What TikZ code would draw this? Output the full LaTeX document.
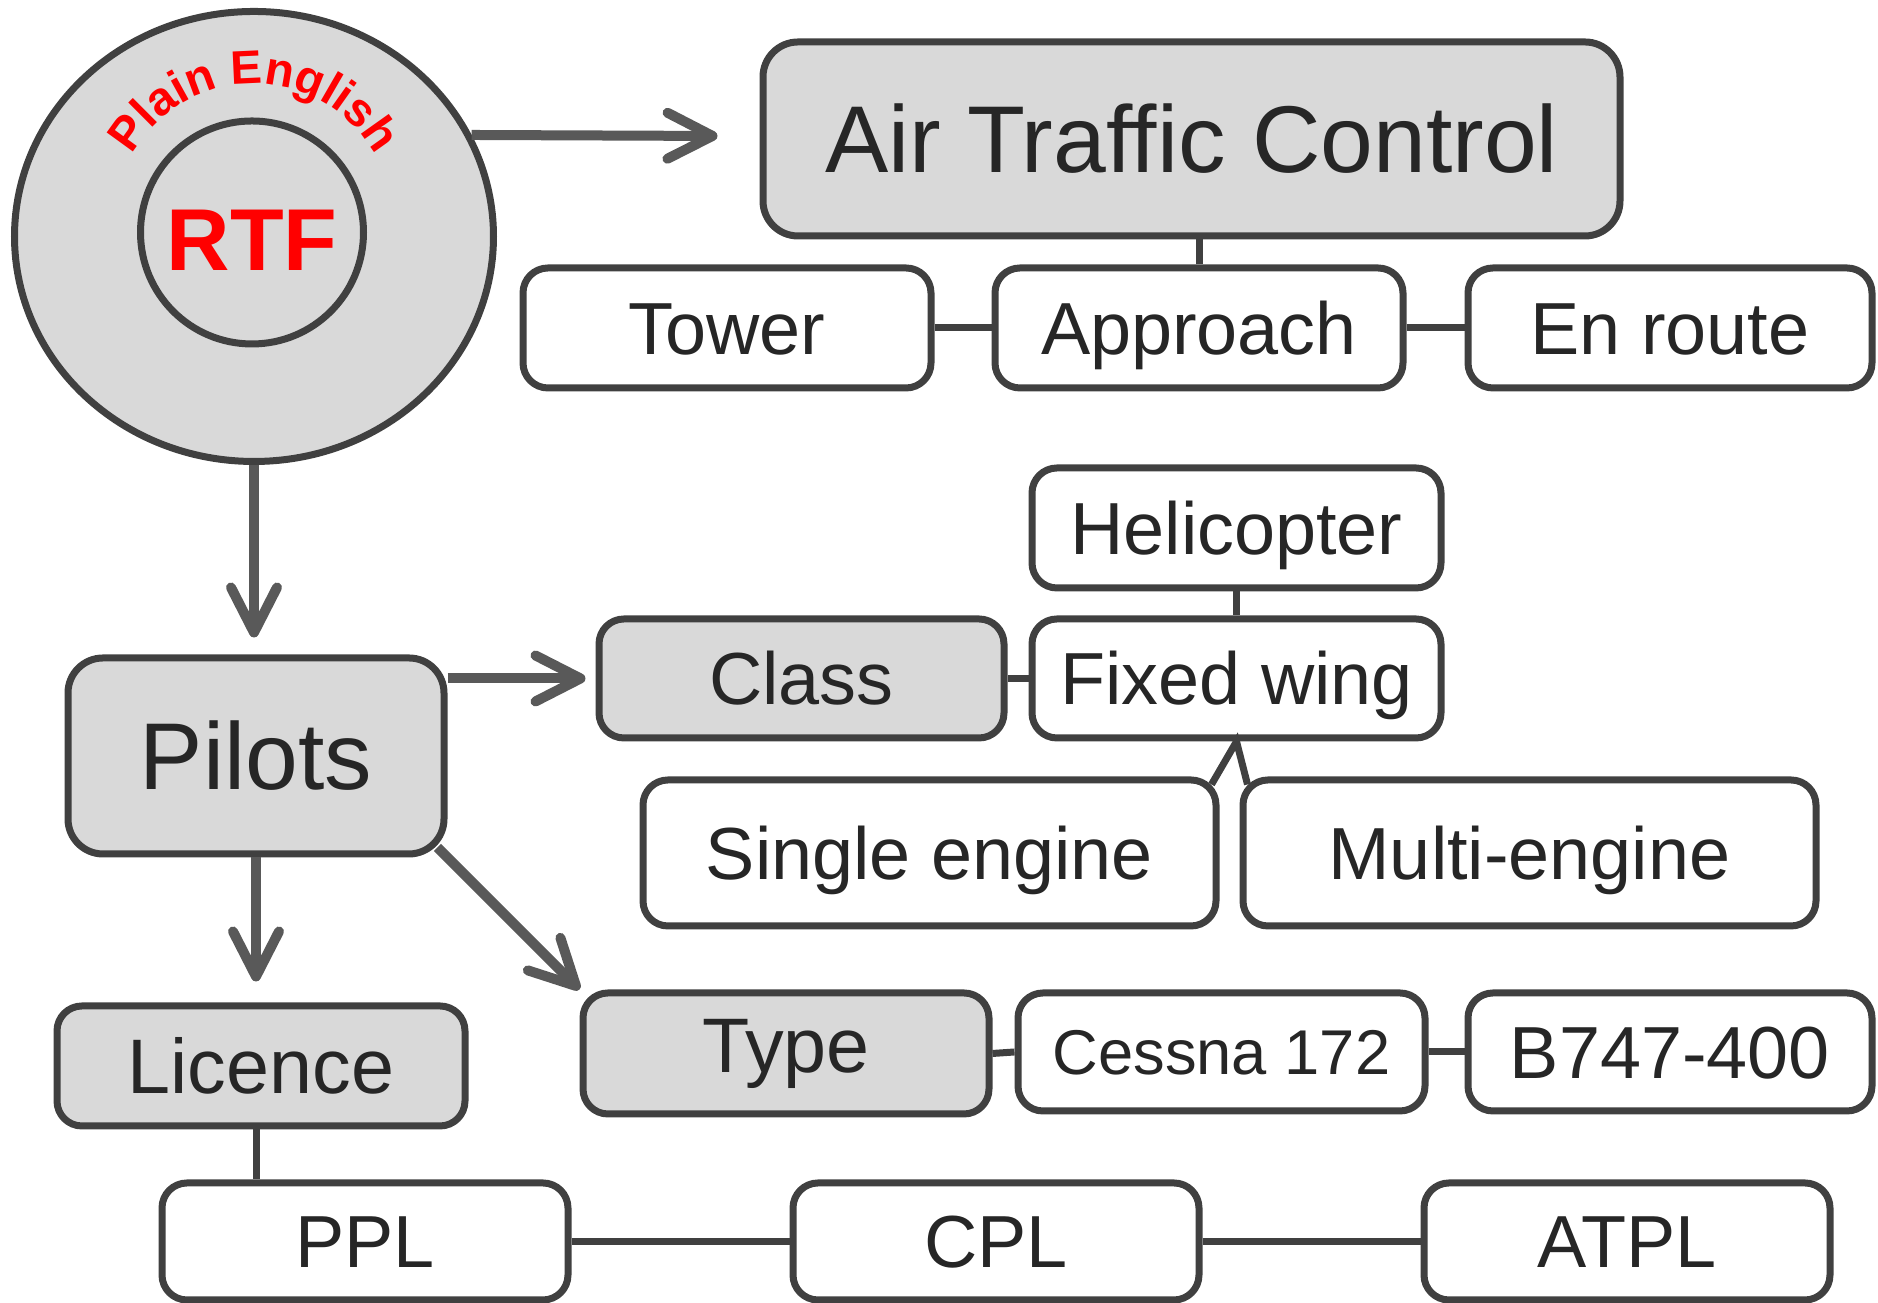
\documentclass[tikz,border=0pt]{standalone}
\usepackage{fontspec}
\setmainfont{Liberation Sans}
\usetikzlibrary{arrows.meta,shapes.geometric,decorations.text,calc}
\definecolor{edge}{HTML}{404040}
\definecolor{arrowgray}{HTML}{595959}
\definecolor{boxfill}{HTML}{D9D9D9}
\definecolor{ink}{HTML}{262626}

\begin{document}
\begin{tikzpicture}[>={Straight Barb[length=4.5mm,width=4.6mm,round]},
        box/.style={draw=edge, line width=0.7mm, rounded corners=2.5mm, text=ink, inner sep=0pt,
            font=\fontsize{21}{21}\selectfont, text height=15pt, text depth=0pt},
        graybox/.style={box, fill=boxfill},
        whitebox/.style={box, fill=white},
        bigtext/.style={rounded corners=3.5mm, font=\fontsize{27}{27}\selectfont, text height=19.3pt},
        ring/.style={draw=edge, line width=0.7mm, fill=boxfill, inner sep=0pt},
        arr/.style={->, draw=arrowgray, line width=1mm},
        link/.style={draw=edge, line width=0.7mm}]
            \useasboundingbox (0,0) rectangle (18.78,13.03);

            % 1. 左上角的圆环
            \node[ring, ellipse, minimum width=4.79cm, minimum height=4.50cm] (outer) at (2.54,10.665) {};
            \node[ring, circle, minimum size=2.23cm, text=red, text height=21.9pt, text depth=0pt,
                font=\bfseries\fontsize{25}{25}\selectfont] (rtf) at (2.52,10.705) {RTF};
            \path[decorate, decoration={text along path, text align=center, text color=red,
                    text={|\bfseries\fontsize{13.4}{13.4}\selectfont|Plain English}}]
                ($(outer.center)+(0,0.125)$) ++(165:1.40) arc[start angle=165, end angle=15, radius=1.40];

            % 2. 管制部分
            \node[graybox, bigtext, minimum width=8.57cm, minimum height=1.94cm] (atc) at (11.915,11.64) {Air Traffic Control};
            \node[whitebox, minimum width=4.08cm, minimum height=1.20cm] (tower) at (7.27,9.75) {Tower};
            \node[whitebox, minimum width=4.08cm, minimum height=1.20cm] (approach) at (11.99,9.75) {Approach};
            \node[whitebox, minimum width=4.04cm, minimum height=1.20cm] (enroute) at (16.70,9.75) {En route};

            % 3. 飞行员部分
            \node[graybox, bigtext, minimum width=3.76cm, minimum height=1.96cm] (pilots) at (2.56,5.47) {Pilots};
            \node[graybox, minimum width=4.05cm, minimum height=1.19cm] (class) at (8.015,6.245) {Class};
            \node[whitebox, minimum width=4.09cm, minimum height=1.19cm] (fixed) at (12.365,6.245) {Fixed wing};
            \node[whitebox, minimum width=4.09cm, minimum height=1.20cm] (heli) at (12.365,7.75) {Helicopter};
            \node[whitebox, minimum width=5.73cm, minimum height=1.46cm] (single) at (9.295,4.50) {Single engine};
            \node[whitebox, minimum width=5.73cm, minimum height=1.46cm] (multi) at (15.295,4.50) {Multi-engine};

            \node[graybox, minimum width=4.06cm, minimum height=1.21cm, font=\fontsize{22}{22}\selectfont,
                text height=15.8pt, text depth=5pt] (type) at (7.86,2.495) {Type};
            \node[whitebox, minimum width=4.07cm, minimum height=1.18cm, font=\fontsize{18}{18}\selectfont,
                text height=12.9pt] (cessna) at (12.215,2.51) {Cessna 172};
            \node[whitebox, minimum width=4.04cm, minimum height=1.18cm] (boeing) at (16.70,2.51) {B747-400};

            \node[graybox, minimum width=4.08cm, minimum height=1.20cm, font=\fontsize{22}{22}\selectfont,
                text height=15.8pt] (licence) at (2.61,2.37) {Licence};
            \node[whitebox, minimum width=4.06cm, minimum height=1.17cm] (ppl) at (3.65,0.615) {PPL};
            \node[whitebox, minimum width=4.06cm, minimum height=1.17cm] (cpl) at (9.96,0.615) {CPL};
            \node[whitebox, minimum width=4.06cm, minimum height=1.17cm] (atpl) at (16.27,0.615) {ATPL};

            % 4. 箭头
            \coordinate (atcin) at ($(atc.west)+(-0.42,0.03)$);
            \coordinate (pilotsin) at ($(pilots.north)+(0,0.17)$);
            \coordinate (classin) at ($(class.west)+(-0.1,0)$);
            \coordinate (licin) at ($(licence.north)+(0,0.21)$);
            \coordinate (pilotsout) at ($(pilots.south east)+(-0.1,0.1)$);

            \draw[arr] (outer.25) -- (atcin);
            \draw[arr] (outer.south) -- (outer.south |- pilotsin);
            \draw[arr] (pilots.east |- classin) -- (classin);
            \draw[arr] (pilotsout) -- (type.north west);
            \draw[arr] (pilots.south) -- (pilots.south |- licin);

            % 5. 连线
            \draw[link] (approach.north) -- (approach.north |- atc.south);
            \draw[link] (tower.east) -- (approach.west);
            \draw[link] (approach.east) -- (enroute.west);
            \draw[link] (class.east) -- (fixed.west);
            \draw[link] (heli.south) -- (fixed.north);
            \draw[link] ($(single.north east)+(-0.08,-0.08)$) -- (fixed.south) -- ($(multi.north west)+(0.08,-0.08)$);
            \draw[link] (type.east) -- (cessna.west);
            \draw[link] (cessna.east) -- (boeing.west);
            \draw[link] (pilots.south |- licence.south) -- (pilots.south |- ppl.north);
            \draw[link] (ppl.east) -- (cpl.west);
            \draw[link] (cpl.east) -- (atpl.west);

        \end{tikzpicture}
\end{document}
